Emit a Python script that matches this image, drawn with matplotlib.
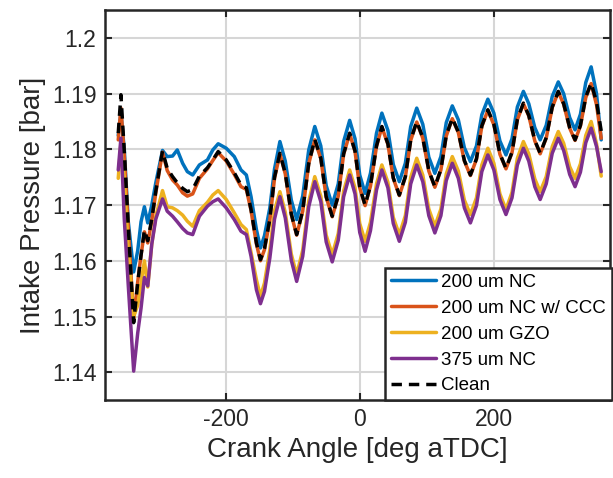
import matplotlib
matplotlib.use('Agg')
import matplotlib.pyplot as plt

# Ansaugdruck ueber Kurbelwinkel

crank_angle = [-360, -356, -351, -345, -337, -331, -326, -321, -316, -310, -304, -294,
               -287, -279, -272, -264, -257, -249, -239, -227, -219, -211, -199, -187,
               -177, -169, -162, -154, -148, -142, -134, -127,
               -119, -111, -102, -94, -85, -76, -67, -58, -50, -41, -32, -24, -15, -7, 0,
               8, 16, 25, 33, 42, 50, 59, 68, 76, 85, 94, 103, 112, 121, 129, 138, 147, 156,
               165, 174, 182, 191, 200, 209, 218, 227, 235, 244, 252, 261, 269, 278, 287,
               296, 304, 313, 321, 329, 337, 345, 353, 360]

p_200_nc = [1.1825, 1.1865, 1.1800, 1.1670, 1.1580, 1.1618, 1.1670, 1.1697, 1.1668, 1.1700, 1.1740, 1.1798,
            1.1787, 1.1788, 1.1799, 1.1775, 1.1760, 1.1754, 1.1772, 1.1781, 1.1799, 1.1810, 1.1802, 1.1787,
            1.1763, 1.1754, 1.1715, 1.1656, 1.1623, 1.1645, 1.1695, 1.1765,
            1.1814, 1.1779, 1.1709, 1.1674, 1.1716, 1.1799, 1.1841, 1.1806, 1.1735, 1.1700, 1.1738, 1.1814, 1.1852, 1.1819, 1.1754,
            1.1721, 1.1757, 1.1829, 1.1865, 1.1834, 1.1773, 1.1742, 1.1775, 1.1841, 1.1874, 1.1845, 1.1786, 1.1757, 1.1787, 1.1848, 1.1878, 1.1853, 1.1803,
            1.1778, 1.1806, 1.1862, 1.1890, 1.1865, 1.1815, 1.1790, 1.1819, 1.1876, 1.1904, 1.1882, 1.1839, 1.1817, 1.1843, 1.1895,
            1.1921, 1.1900, 1.1857, 1.1835, 1.1863, 1.1920, 1.1948, 1.1900, 1.1817]

p_200_nc_ccc = [1.1817, 1.1874, 1.1790, 1.1660, 1.1493, 1.1562, 1.1610, 1.1652, 1.1632, 1.1672, 1.1722, 1.1795,
                1.1762, 1.1745, 1.1736, 1.1722, 1.1716, 1.1720, 1.1748, 1.1765, 1.1780, 1.1794, 1.1779, 1.1755,
                1.1733, 1.1728, 1.1690, 1.1630, 1.1600, 1.1620, 1.1673, 1.1748,
                1.1792, 1.1756, 1.1683, 1.1646, 1.1689, 1.1774, 1.1817, 1.1783, 1.1714, 1.1679, 1.1716, 1.1791, 1.1828, 1.1796, 1.1731,
                1.1699, 1.1734, 1.1805, 1.1840, 1.1809, 1.1748, 1.1717, 1.1750, 1.1816, 1.1849, 1.1820, 1.1761, 1.1732, 1.1763, 1.1824, 1.1855, 1.1830, 1.1779,
                1.1753, 1.1782, 1.1841, 1.1870, 1.1844, 1.1791, 1.1765, 1.1794, 1.1853, 1.1882, 1.1860, 1.1815, 1.1792, 1.1820, 1.1875,
                1.1903, 1.1881, 1.1838, 1.1816, 1.1842, 1.1893, 1.1918, 1.1880, 1.1820]

p_200_gzo = [1.1748, 1.1812, 1.1750, 1.1620, 1.1500, 1.1520, 1.1560, 1.1600, 1.1553, 1.1630, 1.1680, 1.1726,
             1.1697, 1.1695, 1.1690, 1.1682, 1.1671, 1.1662, 1.1690, 1.1705, 1.1718, 1.1726, 1.1710, 1.1686,
             1.1665, 1.1656, 1.1615, 1.1566, 1.1536, 1.1560, 1.1620, 1.1690,
             1.1724, 1.1687, 1.1612, 1.1575, 1.1619, 1.1707, 1.1751, 1.1716, 1.1646, 1.1611, 1.1649, 1.1725, 1.1763, 1.1731, 1.1667,
             1.1635, 1.1669, 1.1738, 1.1772, 1.1741, 1.1678, 1.1647, 1.1681, 1.1750, 1.1784, 1.1754, 1.1693, 1.1662, 1.1693, 1.1756, 1.1787, 1.1761, 1.1709,
             1.1683, 1.1713, 1.1772, 1.1802, 1.1775, 1.1720, 1.1692, 1.1723, 1.1784, 1.1814, 1.1792, 1.1747, 1.1724, 1.1751, 1.1805,
             1.1832, 1.1811, 1.1769, 1.1748, 1.1774, 1.1825, 1.1850, 1.1810, 1.1752]

p_375_nc = [1.1763, 1.1820, 1.1675, 1.1555, 1.1402, 1.1470, 1.1515, 1.1570, 1.1555, 1.1630, 1.1675, 1.1711,
            1.1689, 1.1680, 1.1670, 1.1658, 1.1650, 1.1647, 1.1680, 1.1698, 1.1706, 1.1711, 1.1695, 1.1674,
            1.1653, 1.1647, 1.1608, 1.1548, 1.1523, 1.1545, 1.1605, 1.1675,
            1.1715, 1.1677, 1.1601, 1.1563, 1.1608, 1.1697, 1.1742, 1.1706, 1.1634, 1.1598, 1.1637, 1.1715, 1.1754, 1.1720, 1.1651,
            1.1617, 1.1654, 1.1727, 1.1763, 1.1731, 1.1667, 1.1635, 1.1669, 1.1738, 1.1772, 1.1742, 1.1681, 1.1650, 1.1681, 1.1744, 1.1775, 1.1748, 1.1695,
            1.1668, 1.1699, 1.1760, 1.1790, 1.1763, 1.1710, 1.1683, 1.1713, 1.1772, 1.1802, 1.1779, 1.1733, 1.1710, 1.1738, 1.1793,
            1.1820, 1.1798, 1.1755, 1.1733, 1.1759, 1.1812, 1.1838, 1.1805, 1.1760]

p_clean = [1.1829, 1.1898, 1.1797, 1.1660, 1.1489, 1.1560, 1.1610, 1.1655, 1.1636, 1.1675, 1.1725, 1.1797,
           1.1766, 1.1751, 1.1740, 1.1730, 1.1724, 1.1728, 1.1752, 1.1767, 1.1781, 1.1796, 1.1781, 1.1758,
           1.1736, 1.1731, 1.1692, 1.1632, 1.1602, 1.1622, 1.1675, 1.1750,
           1.1793, 1.1757, 1.1684, 1.1647, 1.1690, 1.1775, 1.1818, 1.1784, 1.1715, 1.1680, 1.1717, 1.1792, 1.1829, 1.1797, 1.1732,
           1.1700, 1.1735, 1.1806, 1.1841, 1.1810, 1.1749, 1.1718, 1.1751, 1.1817, 1.1850, 1.1821, 1.1762, 1.1733, 1.1764, 1.1825, 1.1856, 1.1831, 1.1780,
           1.1754, 1.1783, 1.1842, 1.1871, 1.1845, 1.1792, 1.1766, 1.1795, 1.1854, 1.1883, 1.1861, 1.1816, 1.1793, 1.1821, 1.1876,
           1.1904, 1.1882, 1.1839, 1.1817, 1.1843, 1.1894, 1.1919, 1.1885, 1.1833]

labels = ['200 um NC', '200 um NC w/ CCC', '200 um GZO', '375 um NC', 'Clean']
colors = ['#0072BD', '#D95319', '#EDB120', '#7E2F8E', 'black']

y_ticks = [1.14, 1.15, 1.16, 1.17, 1.18, 1.19, 1.2]
y_tick_labels = ['1.14', '1.15', '1.16', '1.17', '1.18', '1.19', '1.2']
x_ticks = [-200, 0, 200]

plt.rcParams['font.family'] = ['Liberation Sans', 'DejaVu Sans']
plt.rcParams['axes.unicode_minus'] = False

fig = plt.figure(figsize=(6.13, 4.78), dpi=100)
ax = fig.add_axes([0.171, 0.163, 0.824, 0.816])

series = [p_200_nc, p_200_nc_ccc, p_200_gzo, p_375_nc]
for vals, lab, col in zip(series, labels[:4], colors[:4]):
    ax.plot(crank_angle, vals, color=col, linewidth=2.5, label=lab,
            solid_joinstyle='round', solid_capstyle='round')
ax.plot(crank_angle, p_clean, color=colors[4], linewidth=2.5, linestyle=(0, (3, 2)),
        label=labels[4], dash_joinstyle='round')

ax.set_xlim(-380, 373)
ax.set_ylim(1.135, 1.205)
ax.set_xticks(x_ticks)
ax.set_yticks(y_ticks)
ax.set_yticklabels(y_tick_labels)
ax.grid(True, color='#d6d6d6', linewidth=1.5)
ax.set_axisbelow(True)
ax.tick_params(direction='in', top=True, right=True, length=5, width=1.5,
               labelsize=16.5, colors='#262626', pad=6)
for sp in ax.spines.values():
    sp.set_linewidth(1.8)
    sp.set_color('#262626')

ax.set_xlabel('Crank Angle [deg aTDC]', fontsize=20, color='#262626')
ax.set_ylabel('Intake Pressure [bar]', fontsize=20, color='#262626')

leg = ax.legend(loc='lower left', bbox_to_anchor=(0.555, 0.0), borderaxespad=0,
                fontsize=13.5, handlelength=2.4, handletextpad=0.3, labelspacing=0.47,
                borderpad=0.3, fancybox=False, framealpha=1)
leg.get_frame().set_edgecolor('#262626')
leg.get_frame().set_linewidth(1.8)

plt.savefig('out.png', dpi=100)
